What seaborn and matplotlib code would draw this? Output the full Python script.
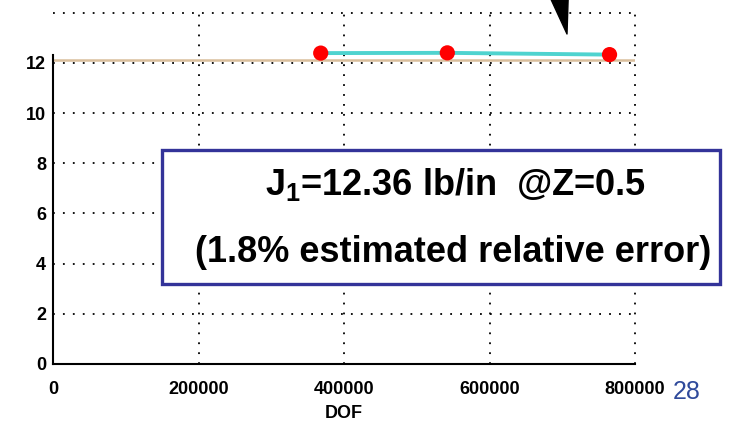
import numpy as np
import pandas as pd
import seaborn as sns
import matplotlib.pyplot as plt
from matplotlib.patches import Rectangle

# values
dof = [368000, 542000, 765000]
j_values = [12.39, 12.40, 12.33]
ref_level = 12.11
x_ticks = [0, 200000, 400000, 600000, 800000]
y_ticks = [0, 2, 4, 6, 8, 10, 12]

sns.set_style('white')
plt.rcParams['font.family'] = ['Liberation Sans', 'DejaVu Sans']
plt.rcParams['text.color'] = 'black'
plt.rcParams['xtick.color'] = 'black'
plt.rcParams['ytick.color'] = 'black'
plt.rcParams['mathtext.fontset'] = 'custom'
plt.rcParams['mathtext.rm'] = 'Liberation Sans:bold'

df = pd.DataFrame({'DOF': dof, 'J': j_values})

fig = plt.figure(figsize=(7.5, 4.21), dpi=100)
ax = fig.add_axes([53 / 750, 1 - 364 / 421, 582 / 750, 351.3 / 421])

# dotted grid
grid_kw = dict(color='black', lw=1.3, ls=(0, (1, 4.5)), zorder=0, clip_on=False)
for y in range(2, 15, 2):
    ax.axhline(y, **grid_kw)
for x in [200000, 400000, 600000, 800000]:
    ax.axvline(x, **grid_kw)

ax.axhline(ref_level, color='#D9BE9C', lw=1.8, zorder=1)
sns.lineplot(data=df, x='DOF', y='J', ax=ax, color='#4FD3CF', lw=2.8, zorder=2)
sns.scatterplot(data=df, x='DOF', y='J', ax=ax, color='#FF0000', s=120,
                edgecolor='none', zorder=3)

ax.set_xlim(0, 800000)
ax.set_ylim(0, 14)
ax.set_xticks(x_ticks)
ax.set_xticklabels([str(v) for v in x_ticks])
ax.set_xticks(np.arange(100000, 800000, 200000), minor=True)
ax.set_yticks(y_ticks)
ax.set_yticklabels([str(v) for v in y_ticks])
ax.set_yticks(np.arange(1, 12, 2), minor=True)
ax.set_xlabel('')
ax.set_ylabel('')

for side in ['top', 'right']:
    ax.spines[side].set_visible(False)
ax.spines['left'].set_bounds(0, 12.3)
for side in ['left', 'bottom']:
    ax.spines[side].set_color('black')
    ax.spines[side].set_linewidth(1.5)

ax.tick_params(which='both', direction='inout', length=6, width=1.2, color='black')
ax.tick_params(axis='x', pad=9, labelsize=13, labelcolor='black')
ax.tick_params(axis='y', pad=2, labelsize=13, labelcolor='black')
for lab in ax.get_xticklabels() + ax.get_yticklabels():
    lab.set_fontweight('bold')

fig.text(344 / 750, 0.006, 'DOF', ha='center', va='baseline',
         fontsize=13, fontweight='bold')

# arrow coming from above the picture
ax.annotate('', xy=(567, 421 - 34), xycoords='figure pixels',
            xytext=(552, 421 + 40), textcoords='figure pixels',
            arrowprops=dict(facecolor='black', edgecolor='black', width=5,
                            headwidth=18, headlength=38),
            annotation_clip=False)

# result box
box = Rectangle((162 / 750, 1 - 284 / 421), 558 / 750, 134 / 421,
                transform=fig.transFigure, facecolor='white',
                edgecolor='#333399', lw=2.4, zorder=5)
fig.patches.append(box)
fig.text(455 / 750, 1 - 195 / 421, r'J$_{\rm 1}$=12.36 lb/in  @Z=0.5',
         ha='center', va='baseline', fontsize=26, fontweight='bold', zorder=6)
fig.text(453 / 750, 1 - 262 / 421, '(1.8% estimated relative error)',
         ha='center', va='baseline', fontsize=26, fontweight='bold', zorder=6)

fig.text(673 / 750, 1 - 399 / 421, '28', ha='left', va='baseline',
         fontsize=18, color='#2F4A9B')

fig.savefig('out.png', dpi=100)
